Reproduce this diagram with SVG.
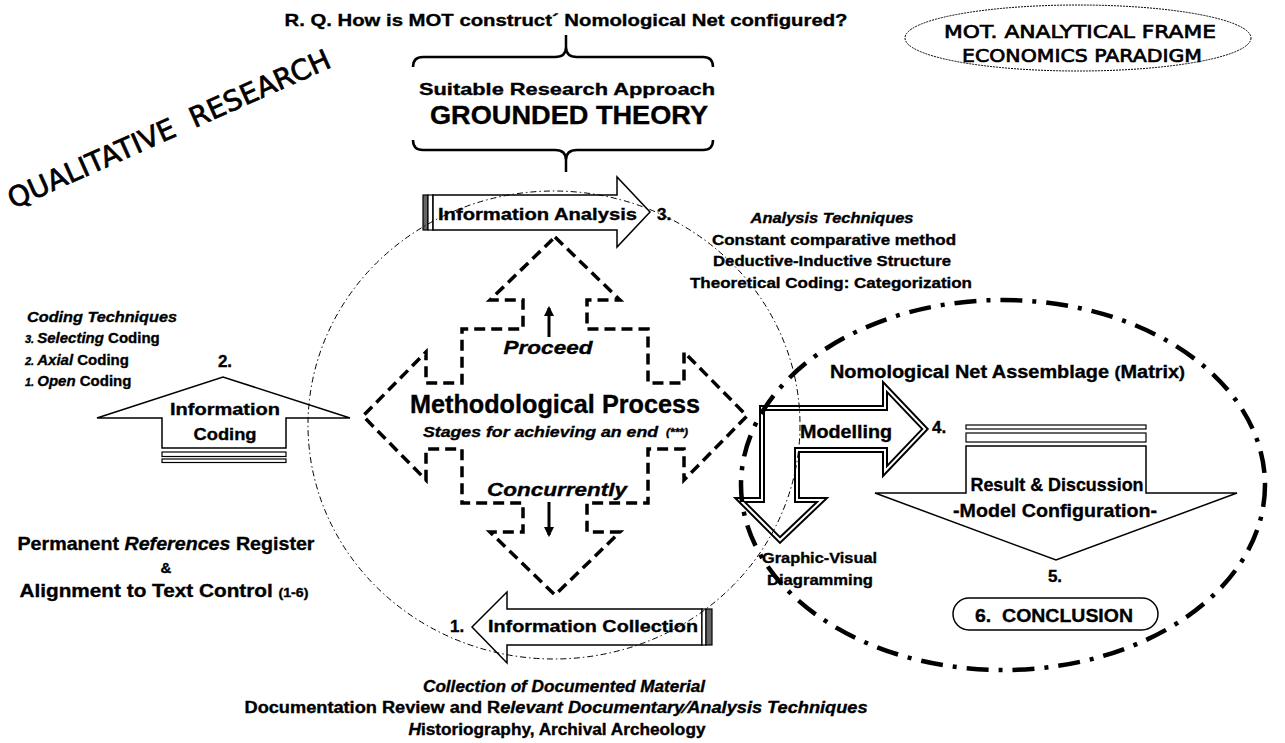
<svg xmlns="http://www.w3.org/2000/svg" width="1285" height="743" viewBox="0 0 1285 743">
<defs>
<style>
.t{font-family:"Liberation Sans",Arial,sans-serif;font-weight:bold;fill:#000;stroke:#000;stroke-width:0.35}
.it{font-style:italic}
.cm{font-family:"DejaVu Sans",sans-serif;font-weight:normal;fill:#000;stroke:#000;stroke-width:0.7}
.mid{text-anchor:middle}
.ol{fill:#fff;stroke:#000;stroke-width:1.5;stroke-linejoin:miter}
.dash{fill:#fff;stroke:#000;stroke-width:3.5;stroke-dasharray:11 6}
.dbl1{fill:#fff;stroke:#000;stroke-width:6;stroke-linejoin:miter}
.dbl2{fill:none;stroke:#fff;stroke-width:2;stroke-linejoin:miter}
.br{fill:none;stroke:#000;stroke-width:2.5}
.bar{fill:#fff;stroke:#000;stroke-width:1.2}
.gbar{fill:#666;stroke:#000;stroke-width:1.2}
.arr{stroke:#000;stroke-width:3;fill:none}
</style>
<marker id="ah" viewBox="0 0 10 10" refX="8" refY="5" markerWidth="3.5" markerHeight="3.5" orient="auto"><path d="M0,0 L10,5 L0,10 Z" fill="#000"/></marker>
</defs>
<rect width="1285" height="743" fill="#fff"/>

<g id="title">
<text class="t mid" x="566" y="26" font-size="17" textLength="563" lengthAdjust="spacingAndGlyphs">R. Q. How is MOT construct´ Nomological Net configured?</text>
</g>

<g id="approach">
<text class="t mid" x="567" y="95" font-size="17" textLength="296" lengthAdjust="spacingAndGlyphs">Suitable Research Approach</text>
<text class="t mid" x="569" y="124" font-size="25" textLength="278" lengthAdjust="spacingAndGlyphs">GROUNDED THEORY</text>
</g>

<g id="qualitative">
<text class="cm" transform="translate(13,209) rotate(-24)" x="0" y="0" font-size="28" textLength="350" lengthAdjust="spacingAndGlyphs" xml:space="preserve">QUALITATIVE  RESEARCH</text>
</g>

<g id="mot-frame">
<ellipse cx="1078" cy="38" rx="173" ry="33" fill="#fff" stroke="#000" stroke-width="1" stroke-dasharray="2 1"/>
<text class="cm mid" x="1080" y="38" font-size="18" textLength="272" lengthAdjust="spacingAndGlyphs">MOT. ANALYTICAL FRAME</text>
<text class="cm mid" x="1082" y="62" font-size="18" textLength="240" lengthAdjust="spacingAndGlyphs">ECONOMICS PARADIGM</text>
</g>

<g id="methodological-process">
<path class="dash" d="M555,237 L620,300 L587,300 L587,329 L648,329 L648,383 L684,383 L684,352 L747,416 L684,480 L684,449 L648,449 L648,503 L587,503 L587,532 L620,532 L555,595 L490,532 L523,532 L523,503 L462,503 L462,449 L426,449 L426,480 L363,416 L426,352 L426,383 L462,383 L462,329 L523,329 L523,300 L490,300 Z"/>
<text class="t it mid" x="548" y="354" font-size="19" textLength="89" lengthAdjust="spacingAndGlyphs">Proceed</text>
<text class="t mid" x="555" y="413" font-size="25" textLength="290" lengthAdjust="spacingAndGlyphs">Methodological Process</text>
<text class="t it" x="423" y="437" font-size="15" textLength="235" lengthAdjust="spacingAndGlyphs">Stages for achieving an end</text>
<text class="t it" x="666" y="436" font-size="10" textLength="22" lengthAdjust="spacingAndGlyphs">(***)</text>
<text class="t it mid" x="557" y="496" font-size="19" textLength="140" lengthAdjust="spacingAndGlyphs">Concurrently</text>
</g>

<g id="information-analysis">
<rect class="gbar" x="423" y="195" width="5" height="35"/>
<rect class="bar" x="428" y="195" width="5" height="35"/>
<path class="ol" d="M433,195 L617,195 L617,177 L650,212 L617,247 L617,230 L433,230 Z"/>
<text class="t" x="438" y="220" font-size="17" textLength="199" lengthAdjust="spacingAndGlyphs">Information Analysis</text>
<text class="t" x="657" y="220" font-size="17">3.</text>
</g>

<g id="analysis-techniques">
<text class="t it mid" x="832" y="223" font-size="15" textLength="163" lengthAdjust="spacingAndGlyphs">Analysis Techniques</text>
<text class="t mid" x="834" y="245" font-size="15" textLength="244" lengthAdjust="spacingAndGlyphs">Constant comparative method</text>
<text class="t mid" x="832" y="266" font-size="15" textLength="238" lengthAdjust="spacingAndGlyphs">Deductive-Inductive Structure</text>
<text class="t mid" x="831" y="288" font-size="15" textLength="282" lengthAdjust="spacingAndGlyphs">Theoretical Coding: Categorization</text>
</g>

<g id="coding-techniques">
<text class="t it" x="27" y="322" font-size="15" textLength="150" lengthAdjust="spacingAndGlyphs">Coding Techniques</text>
<text class="t" x="25" y="343" font-size="15"><tspan class="it" font-size="11">3. </tspan><tspan class="it">Selecting</tspan> Coding</text>
<text class="t" x="25" y="365" font-size="15"><tspan class="it" font-size="11">2. </tspan><tspan class="it">Axial</tspan> Coding</text>
<text class="t" x="25" y="386" font-size="15"><tspan class="it" font-size="11">1. </tspan><tspan class="it">Open</tspan> Coding</text>
</g>

<g id="information-coding">
<path class="ol" d="M162,448 L162,418 L97,418 L223,377 L350,418 L286,418 L286,448 Z"/>
<rect class="bar" x="162" y="452" width="124" height="4.5"/>
<rect class="bar" x="162" y="459" width="124" height="3.5"/>
<text class="t mid" x="225" y="367" font-size="17">2.</text>
<text class="t mid" x="225" y="415" font-size="17" textLength="110" lengthAdjust="spacingAndGlyphs">Information</text>
<text class="t mid" x="225" y="440" font-size="17" textLength="63" lengthAdjust="spacingAndGlyphs">Coding</text>
</g>

<g id="references-register">
<text class="t mid" x="166" y="550" font-size="19" textLength="297" lengthAdjust="spacingAndGlyphs">Permanent <tspan class="it">References</tspan> Register</text>
<text class="t mid" x="166" y="573" font-size="15">&amp;</text>
<text class="t mid" x="164" y="597" font-size="19" textLength="289" lengthAdjust="spacingAndGlyphs">Alignment to Text Control <tspan font-size="13">(1-6)</tspan></text>
</g>

<g id="information-collection">
<path class="ol" d="M702,609 L507,609 L507,592 L472,627 L507,663 L507,645 L702,645 Z"/>
<rect class="bar" x="702" y="609" width="4" height="36"/>
<rect class="gbar" x="706" y="609" width="6" height="36"/>
<text class="t" x="488" y="632" font-size="17" textLength="210" lengthAdjust="spacingAndGlyphs">Information Collection</text>
<text class="t" x="450" y="632" font-size="17">1.</text>
</g>

<g id="collection-material">
<text class="t it mid" x="564" y="692" font-size="16" textLength="282" lengthAdjust="spacingAndGlyphs">Collection of Documented Material</text>
<text class="t mid" x="556" y="713" font-size="16" textLength="623" lengthAdjust="spacingAndGlyphs">Documentation Review and R<tspan class="it">elevant Documentary⁄Analysis Techniques</tspan></text>
<text class="t mid" x="557" y="735" font-size="16" textLength="297" lengthAdjust="spacingAndGlyphs"><tspan class="it">H</tspan>istoriography, Archival Archeology</text>
</g>

<g id="modelling">
<path class="dbl1" d="M762,500 L762,408 L885,408 L885,387 L925,429 L885,471 L885,450 L797,450 L797,500 L822,500 L780,540 L740,500 Z"/>
<path class="dbl2" d="M762,500 L762,408 L885,408 L885,387 L925,429 L885,471 L885,450 L797,450 L797,500 L822,500 L780,540 L740,500 Z"/>
<text class="t" x="800" y="438" font-size="18" textLength="92" lengthAdjust="spacingAndGlyphs">Modelling</text>
<text class="t" x="932" y="433" font-size="17">4.</text>
<text class="t" x="762" y="563" font-size="15" textLength="115" lengthAdjust="spacingAndGlyphs">Graphic-Visual</text>
<text class="t" x="767" y="585" font-size="15" textLength="106" lengthAdjust="spacingAndGlyphs">Diagramming</text>
</g>

<g id="nomological-net">
<text class="t" x="830" y="378" font-size="18" textLength="355" lengthAdjust="spacingAndGlyphs">Nomological Net Assemblage <tspan font-size="16">(</tspan>Matrix<tspan font-size="16">)</tspan></text>
</g>

<g id="result-discussion">
<rect class="bar" x="966" y="425" width="180" height="4"/>
<rect class="bar" x="966" y="433" width="180" height="9"/>
<path class="ol" d="M966,493 L966,446 L1146,446 L1146,493 L1237,493 L1056,560 L875,493 Z"/>
<text class="t mid" x="1057" y="491" font-size="19" textLength="173" lengthAdjust="spacingAndGlyphs">Result &amp; Discussion</text>
<text class="t mid" x="1055" y="517" font-size="19" textLength="204" lengthAdjust="spacingAndGlyphs">-Model Configuration-</text>
<text class="t mid" x="1055" y="582" font-size="17">5.</text>
</g>

<g id="conclusion">
<rect x="953" y="598" width="205" height="32" rx="16" ry="16" fill="#fff" stroke="#000" stroke-width="1.5"/>
<text class="t" x="975" y="622" font-size="19" textLength="158" lengthAdjust="spacingAndGlyphs" xml:space="preserve">6.  CONCLUSION</text>
</g>

<g id="boundaries">
<ellipse cx="554" cy="425" rx="246" ry="234" fill="none" stroke="#000" stroke-width="1" stroke-dasharray="6 3 1.5 3"/>
<ellipse cx="1003" cy="485" rx="262" ry="185" fill="none" stroke="#000" stroke-width="4.5" stroke-dasharray="22 10 4 10"/>
</g>

<g id="connectors">
<path class="br" d="M413,67 Q413,57 423,57 L555,57 Q566,57 566,47 L566,35 M566,47 Q566,57 577,57 L703,57 Q713,57 713,67"/>
<path class="br" d="M413,140 Q413,150 423,150 L555,150 Q566,150 566,160 L566,172 M566,160 Q566,150 577,150 L703,150 Q713,150 713,140"/>
<line class="arr" x1="549" y1="337" x2="549" y2="308" marker-end="url(#ah)"/>
<line class="arr" x1="549" y1="502" x2="549" y2="535" marker-end="url(#ah)"/>
</g>
</svg>
